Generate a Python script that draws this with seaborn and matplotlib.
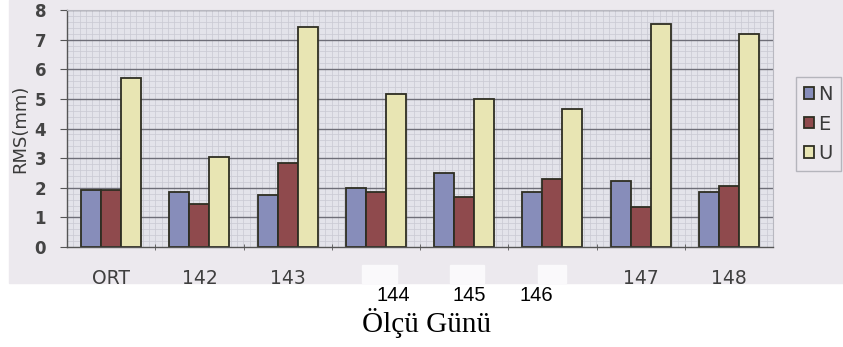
import numpy as np
import pandas as pd
import seaborn as sns
import matplotlib.pyplot as plt
from matplotlib.patches import Rectangle
from matplotlib.transforms import ScaledTranslation

days = ["ORT", "142", "143", "144", "145", "146", "147", "148"]
n_vals = [1.93, 1.87, 1.76, 1.99, 2.50, 1.87, 2.23, 1.86]
e_vals = [1.93, 1.45, 2.85, 1.87, 1.70, 2.29, 1.35, 2.06]
u_vals = [5.71, 3.05, 7.44, 5.17, 5.00, 4.65, 7.53, 7.20]
components = ["N", "E", "U"]
colors = ["#7F87C2", "#9A3F42", "#F1EDAA"]

df = pd.DataFrame({
    "day": days * 3,
    "rms": n_vals + e_vals + u_vals,
    "comp": ["N"] * 8 + ["E"] * 8 + ["U"] * 8,
})

sns.set_style("white")
plt.rcParams['font.family'] = ['DejaVu Sans']

fig = plt.figure(figsize=(8.43, 3.47), dpi=100)
W, H = 843, 347

### scanned paper background and erased label boxes
fig.patches.append(Rectangle((9 / W, 1 - 283 / H), 1 - 9 / W, 283 / H,
                             transform=fig.transFigure, color="#ECE9EE", zorder=-10))
for x0, x1 in [(362, 397), (450, 484), (538, 566)]:
    fig.patches.append(Rectangle((x0 / W, 1 - 283 / H), (x1 - x0) / W, 18 / H,
                                 transform=fig.transFigure, color="#FAF9FB", zorder=-9))

ax = fig.add_axes([67 / W, 1 - 247 / H, (773 - 67) / W, (247 - 10) / H])
ax.set_facecolor("#E3E3EA")

### graph paper look
for y in np.arange(0, 8, 0.2):
    ax.axhline(y, color="#C9C9D2", lw=0.5, zorder=0)
for x in np.arange(-0.5, 7.5, 1 / 14):
    ax.axvline(x, color="#C9C9D2", lw=0.5, zorder=0)
for y in range(1, 9):
    ax.axhline(y, color="#6E6E78", lw=1.0, zorder=0.5)

sns.barplot(data=df, x="day", y="rms", hue="comp", hue_order=components,
            palette=colors, width=0.68, gap=0, edgecolor="#2E2E22",
            linewidth=1.3, ax=ax, zorder=2)

ax.set_xlim(-0.5, 7.5)
ax.set_ylim(0, 8)
ax.set_yticks(range(0, 9))
ax.tick_params(axis="y", labelsize=12, labelcolor="#444444", length=5,
               direction="out", left=True, color="#555555", pad=10)
for lab in ax.get_yticklabels():
    lab.set_fontweight("bold")
ax.set_xticks(range(8))
ax.set_xticklabels(days)
ax.set_xticks(np.arange(0.5, 7.5, 1), minor=True)
ax.tick_params(axis="x", which="major", length=0, labelsize=13.5,
               labelcolor="#3F3F3F", pad=16)
ax.tick_params(axis="x", which="minor", length=4, color="#555555",
               direction="inout", bottom=True)

# 144-146 labels sit lower, in plain black Arial-like type
shifts = {"144": (17, -17), "145": (5, -17), "146": (-16, -17)}
for lab in ax.get_xticklabels():
    if lab.get_text() in shifts:
        dx, dy = shifts[lab.get_text()]
        lab.set_transform(lab.get_transform() +
                          ScaledTranslation(dx / 100, dy / 100, fig.dpi_scale_trans))
        lab.set_color("black")
        lab.set_family("Liberation Sans")
        lab.set_fontsize(14.5)

for side in ["left", "bottom"]:
    ax.spines[side].set_color("#555555")
    ax.spines[side].set_linewidth(1.0)
for side in ["top", "right"]:
    ax.spines[side].set_color("#B8B8C0")
    ax.spines[side].set_linewidth(0.8)

ax.set_xlabel("")
ax.set_ylabel("RMS(mm)", fontsize=13, color="#3A3A3A", labelpad=4)
fig.text(427 / W, 1 - 323 / H, "Ölçü Günü", ha="center", va="center",
         fontsize=21, family="Liberation Serif", color="black")

handles, labels = ax.get_legend_handles_labels()
ax.legend(handles, labels, loc="center left",
          bbox_to_anchor=(796 / W, 1 - 124 / H), bbox_transform=fig.transFigure,
          fontsize=14, frameon=True, fancybox=False, edgecolor="#A8A8B0",
          facecolor="#ECE9EE", handlelength=0.55, handleheight=0.55,
          handletextpad=0.2, labelspacing=0.55, borderpad=0.4,
          labelcolor="#3A3A3A", borderaxespad=0)

fig.savefig("out.png", dpi=100)
